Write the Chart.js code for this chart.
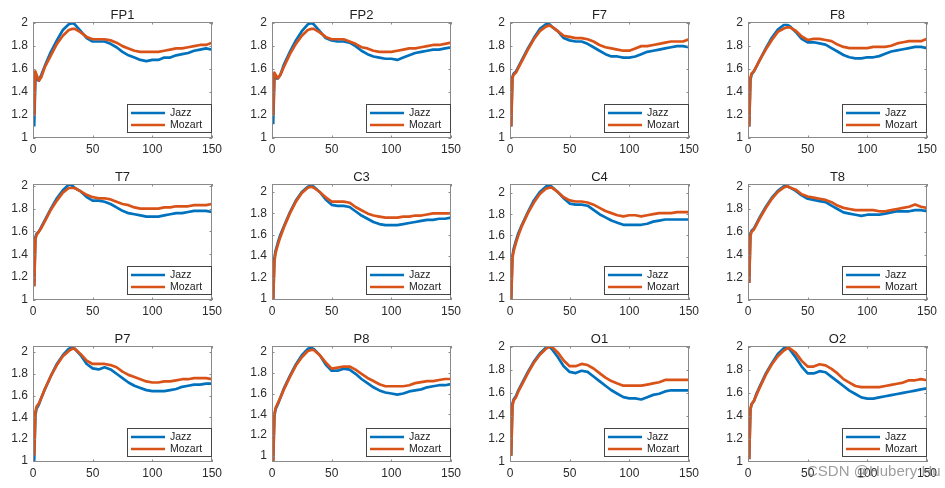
<!DOCTYPE html>
<html><head><meta charset="utf-8">
<script src="https://cdn.jsdelivr.net/npm/chart.js@4.4.1/dist/chart.umd.min.js"></script>
<style>
html,body{margin:0;padding:0;background:#fff;width:945px;height:488px;overflow:hidden;position:relative}
canvas{position:absolute}
#wm{position:absolute;left:807px;top:462px;font:15px "Liberation Sans",Arial,sans-serif;color:rgba(115,115,115,0.7);white-space:nowrap;z-index:5}
</style></head><body>
<div id="wrap"></div>
<div id="wm">CSDN @Hubery Hu</div>
<script>
// ---- data ----
const xValues = [1,2,3,5,7,10,15,20,25,30,33,35,40,45,50,55,60,65,70,75,80,85,90,95,100,105,110,115,120,125,130,135,140,145,150];
const xTickValues = [0,50,100,150];
const xTickLabels = ['0','50','100','150'];
const yTickValues = [1,1.2,1.4,1.6,1.8,2];
const yTickLabels = ['1','1.2','1.4','1.6','1.8','2'];
const titles = ['FP1','FP2','F7','F8','T7','C3','C4','T8','P7','P8','O1','O2'];
const seriesNames = ['Jazz','Mozart'];
const yMin = [1,1,1,1, 1,0.99,0.99,1, 0.99,0.94,0.995,0.995];
const yMax = [2.01,2.01,2.01,2.006, 2.015,2.075,2.085,2.02, 2.055,2.058,2.006,2.01];

const jazzFP1 = [1.10,1.52,1.51,1.50,1.55,1.63,1.75,1.85,1.94,1.99,2.00,1.99,1.93,1.87,1.84,1.84,1.84,1.82,1.79,1.75,1.72,1.70,1.68,1.67,1.68,1.68,1.70,1.70,1.72,1.73,1.74,1.76,1.77,1.78,1.77];
const mozartFP1 = [1.20,1.58,1.55,1.50,1.53,1.62,1.72,1.82,1.89,1.94,1.95,1.95,1.92,1.88,1.86,1.86,1.86,1.85,1.83,1.80,1.78,1.76,1.75,1.75,1.75,1.75,1.76,1.77,1.78,1.78,1.79,1.80,1.81,1.81,1.83];
const jazzFP2 = [1.12,1.52,1.52,1.52,1.55,1.64,1.75,1.85,1.93,1.99,2.00,1.99,1.93,1.87,1.85,1.84,1.84,1.83,1.80,1.76,1.73,1.71,1.70,1.69,1.69,1.68,1.70,1.72,1.74,1.75,1.76,1.77,1.77,1.78,1.79];
const mozartFP2 = [1.20,1.57,1.55,1.52,1.55,1.62,1.73,1.82,1.89,1.94,1.95,1.95,1.92,1.88,1.86,1.86,1.86,1.84,1.82,1.79,1.78,1.76,1.75,1.75,1.75,1.76,1.77,1.78,1.78,1.79,1.80,1.81,1.81,1.82,1.83];
const jazzF7 = [1.10,1.53,1.56,1.58,1.62,1.68,1.78,1.87,1.95,1.99,1.99,1.97,1.93,1.87,1.85,1.84,1.84,1.82,1.79,1.76,1.73,1.71,1.71,1.70,1.70,1.71,1.73,1.75,1.76,1.77,1.78,1.79,1.80,1.80,1.79];
const mozartF7 = [1.10,1.52,1.55,1.57,1.61,1.67,1.77,1.86,1.93,1.97,1.98,1.97,1.93,1.89,1.88,1.87,1.87,1.86,1.84,1.81,1.79,1.78,1.77,1.76,1.76,1.78,1.80,1.80,1.81,1.82,1.83,1.84,1.84,1.84,1.86];
const jazzF8 = [1.10,1.50,1.55,1.58,1.62,1.68,1.78,1.87,1.94,1.98,1.98,1.97,1.92,1.86,1.83,1.83,1.82,1.81,1.78,1.75,1.72,1.70,1.69,1.69,1.70,1.70,1.71,1.73,1.75,1.76,1.77,1.78,1.79,1.79,1.78];
const mozartF8 = [1.10,1.52,1.56,1.58,1.62,1.68,1.77,1.85,1.92,1.95,1.96,1.96,1.93,1.88,1.85,1.86,1.86,1.85,1.84,1.81,1.79,1.78,1.78,1.78,1.78,1.79,1.79,1.79,1.80,1.82,1.83,1.84,1.84,1.84,1.86];
const jazzT7 = [1.12,1.55,1.58,1.60,1.64,1.70,1.80,1.89,1.96,2.01,2.00,1.98,1.95,1.90,1.87,1.87,1.86,1.84,1.81,1.78,1.76,1.75,1.74,1.73,1.73,1.73,1.74,1.75,1.76,1.76,1.77,1.78,1.78,1.78,1.77];
const mozartT7 = [1.12,1.53,1.57,1.60,1.63,1.69,1.79,1.87,1.94,1.98,1.98,1.98,1.95,1.92,1.90,1.89,1.89,1.88,1.86,1.84,1.83,1.81,1.80,1.80,1.80,1.80,1.81,1.81,1.82,1.82,1.82,1.83,1.83,1.83,1.84];
const jazzC3 = [0.99,1.38,1.45,1.53,1.60,1.68,1.81,1.92,2.00,2.05,2.06,2.05,2.00,1.93,1.88,1.87,1.87,1.86,1.82,1.78,1.75,1.72,1.70,1.69,1.69,1.69,1.70,1.71,1.72,1.73,1.74,1.74,1.75,1.75,1.76];
const mozartC3 = [0.99,1.35,1.43,1.51,1.58,1.67,1.80,1.91,1.99,2.04,2.05,2.04,2.00,1.95,1.91,1.91,1.91,1.90,1.86,1.83,1.80,1.78,1.77,1.76,1.76,1.76,1.77,1.77,1.78,1.78,1.79,1.80,1.80,1.80,1.80];
const jazzC4 = [0.99,1.40,1.47,1.55,1.62,1.70,1.82,1.93,2.01,2.06,2.07,2.06,2.01,1.95,1.90,1.89,1.89,1.88,1.84,1.80,1.77,1.74,1.72,1.70,1.70,1.70,1.70,1.71,1.73,1.74,1.75,1.75,1.75,1.75,1.75];
const mozartC4 = [0.99,1.38,1.45,1.53,1.60,1.69,1.81,1.91,1.99,2.04,2.05,2.05,2.01,1.96,1.93,1.92,1.92,1.91,1.89,1.86,1.83,1.81,1.79,1.78,1.79,1.79,1.78,1.79,1.80,1.81,1.81,1.81,1.82,1.82,1.82];
const jazzT8 = [1.15,1.58,1.61,1.63,1.67,1.73,1.82,1.90,1.96,2.00,2.00,1.99,1.96,1.92,1.89,1.88,1.87,1.86,1.83,1.80,1.77,1.76,1.75,1.74,1.75,1.75,1.75,1.76,1.77,1.78,1.78,1.78,1.79,1.79,1.78];
const mozartT8 = [1.15,1.56,1.60,1.62,1.66,1.72,1.81,1.89,1.95,1.99,2.00,1.99,1.97,1.93,1.91,1.90,1.89,1.88,1.86,1.83,1.81,1.80,1.79,1.79,1.79,1.79,1.78,1.78,1.79,1.80,1.81,1.82,1.84,1.82,1.81];
const jazzP7 = [1.00,1.42,1.48,1.52,1.58,1.66,1.78,1.89,1.97,2.03,2.04,2.03,1.97,1.89,1.85,1.84,1.86,1.84,1.80,1.76,1.72,1.69,1.67,1.65,1.64,1.64,1.64,1.65,1.66,1.68,1.69,1.70,1.70,1.71,1.71];
const mozartP7 = [1.05,1.45,1.50,1.53,1.58,1.66,1.78,1.88,1.96,2.01,2.03,2.03,1.98,1.92,1.89,1.89,1.89,1.88,1.86,1.82,1.79,1.77,1.75,1.73,1.72,1.72,1.73,1.73,1.74,1.75,1.75,1.76,1.76,1.76,1.75];
const jazzP8 = [0.95,1.38,1.45,1.50,1.56,1.65,1.77,1.88,1.97,2.03,2.04,2.03,1.97,1.88,1.82,1.82,1.84,1.83,1.79,1.74,1.70,1.66,1.63,1.61,1.60,1.59,1.60,1.62,1.63,1.64,1.66,1.67,1.68,1.68,1.69];
const mozartP8 = [0.95,1.40,1.46,1.51,1.56,1.64,1.76,1.87,1.95,2.01,2.02,2.02,1.97,1.90,1.84,1.85,1.86,1.86,1.83,1.79,1.75,1.72,1.69,1.67,1.67,1.67,1.67,1.68,1.70,1.71,1.72,1.72,1.73,1.74,1.74];
const jazzO1 = [1.05,1.50,1.54,1.57,1.62,1.68,1.78,1.87,1.94,1.99,2.00,1.98,1.91,1.83,1.78,1.77,1.79,1.78,1.74,1.70,1.66,1.62,1.59,1.56,1.55,1.55,1.54,1.56,1.58,1.59,1.61,1.62,1.62,1.62,1.62];
const mozartO1 = [1.05,1.48,1.53,1.56,1.61,1.67,1.77,1.86,1.93,1.98,2.00,2.00,1.95,1.88,1.83,1.83,1.85,1.84,1.81,1.77,1.73,1.70,1.68,1.66,1.66,1.66,1.66,1.67,1.68,1.69,1.71,1.71,1.71,1.71,1.71];
const jazzO2 = [1.02,1.45,1.50,1.53,1.59,1.66,1.77,1.86,1.94,1.99,2.00,1.98,1.91,1.83,1.77,1.77,1.79,1.78,1.74,1.70,1.66,1.62,1.59,1.56,1.55,1.55,1.56,1.57,1.58,1.59,1.60,1.61,1.62,1.63,1.64];
const mozartO2 = [1.02,1.46,1.50,1.53,1.58,1.65,1.76,1.85,1.92,1.97,1.99,1.99,1.95,1.88,1.83,1.83,1.85,1.84,1.81,1.77,1.72,1.69,1.66,1.65,1.65,1.65,1.65,1.66,1.67,1.68,1.69,1.71,1.71,1.72,1.71];

const jazzSeries = [jazzFP1,jazzFP2,jazzF7,jazzF8,jazzT7,jazzC3,jazzC4,jazzT8,jazzP7,jazzP8,jazzO1,jazzO2];
const mozartSeries = [mozartFP1,mozartFP2,mozartF7,mozartF8,mozartT7,mozartC3,mozartC4,mozartT8,mozartP7,mozartP8,mozartO1,mozartO2];

// ---- style / layout ----
const JAZZ = '#0072BD', MOZART = '#D95319';
const FONT = '"Liberation Sans", Arial, Helvetica, sans-serif';
const TXT = '#2b2b2b';
const colLeft = [0, 239, 477, 715];
const rowTop = [0, 162, 324];
const CW = 226, CH = 158;

const matlabPlugin = {
  id: 'matlab',
  afterDatasetsDraw(chart, args, opts) {
    const {ctx, chartArea: a, scales: {x, y}} = chart;
    ctx.save();
    // axes box
    ctx.strokeStyle = '#8a8a8a';
    ctx.lineWidth = 1;
    ctx.strokeRect(Math.round(a.left) + 0.5, Math.round(a.top) + 0.5,
                   Math.round(a.right - a.left) - 1, Math.round(a.bottom - a.top) - 1);
    // inward tick marks
    ctx.beginPath();
    const tl = 2.5;
    xTickValues.forEach(v => {
      const px = Math.round(x.getPixelForValue(v)) + 0.5;
      ctx.moveTo(px, a.bottom); ctx.lineTo(px, a.bottom - tl);
      ctx.moveTo(px, a.top); ctx.lineTo(px, a.top + tl);
    });
    yTickValues.forEach(v => {
      if (v < y.min || v > y.max) return;
      const py = Math.round(y.getPixelForValue(v)) + 0.5;
      ctx.moveTo(a.left, py); ctx.lineTo(a.left + tl, py);
      ctx.moveTo(a.right, py); ctx.lineTo(a.right - tl, py);
    });
    ctx.stroke();
    // title
    ctx.fillStyle = '#1e1e1e';
    ctx.font = '13px ' + FONT;
    ctx.textAlign = 'center';
    ctx.textBaseline = 'alphabetic';
    ctx.fillText(opts.title, (a.left + a.right) / 2, a.top - 3);
    // legend
    const lw = 84, lh = 28;
    const lx = Math.round(a.right) - 1 - lw, ly = Math.round(a.bottom) - 6 - lh;
    ctx.fillStyle = '#fff';
    ctx.fillRect(lx, ly, lw, lh);
    ctx.strokeStyle = '#444';
    ctx.lineWidth = 1;
    ctx.strokeRect(lx + 0.5, ly + 0.5, lw, lh);
    ctx.font = '10.5px ' + FONT;
    ctx.textAlign = 'left';
    ctx.textBaseline = 'middle';
    chart.data.datasets.forEach((ds, i) => {
      const cy = ly + 9 + i * 12;
      ctx.strokeStyle = ds.borderColor;
      ctx.lineWidth = 2.5;
      ctx.beginPath();
      ctx.moveTo(lx + 4, cy); ctx.lineTo(lx + 38, cy);
      ctx.stroke();
      ctx.fillStyle = '#222';
      ctx.fillText(ds.label, lx + 43, cy + 0.5);
    });
    ctx.restore();
  }
};

const wrap = document.getElementById('wrap');
titles.forEach((t, k) => {
  const c = document.createElement('canvas');
  c.width = CW; c.height = CH;
  c.style.left = colLeft[k % 4] + 'px';
  c.style.top = rowTop[Math.floor(k / 4)] + 'px';
  c.style.width = CW + 'px'; c.style.height = CH + 'px';
  wrap.appendChild(c);
  const mk = arr => xValues.map((xv, i) => ({x: xv, y: arr[i]}));
  new Chart(c, {
    type: 'line',
    data: {
      datasets: [
        {label: seriesNames[0], data: mk(jazzSeries[k]), borderColor: JAZZ, borderWidth: 2.7, pointRadius: 0, tension: 0, order: 1, borderJoinStyle: 'round', fill: false},
        {label: seriesNames[1], data: mk(mozartSeries[k]), borderColor: MOZART, borderWidth: 2.7, pointRadius: 0, tension: 0, order: 0, borderJoinStyle: 'round', fill: false}
      ]
    },
    options: {
      responsive: false,
      animation: false,
      events: [],
      layout: {padding: {left: 0, top: 22, right: 12, bottom: 0}},
      plugins: {legend: {display: false}, tooltip: {enabled: false}, title: {display: false}, matlab: {title: t}},
      scales: {
        x: {
          type: 'linear', min: 0, max: 150,
          grid: {display: false, drawTicks: false}, border: {display: false},
          afterBuildTicks: s => { s.ticks = xTickValues.map(v => ({value: v})); },
          afterFit: s => { s.height = 20; },
          ticks: {padding: 4, maxRotation: 0, autoSkip: false, color: TXT, font: {size: 12, family: FONT},
                  callback: (v) => { const i = xTickValues.indexOf(v); return i >= 0 ? xTickLabels[i] : ''; }}
        },
        y: {
          type: 'linear', min: yMin[k], max: yMax[k],
          grid: {display: false, drawTicks: false}, border: {display: false},
          afterBuildTicks: s => { s.ticks = yTickValues.filter(v => v >= s.min - 1e-9 && v <= s.max + 1e-9).map(v => ({value: v})); },
          afterFit: s => { s.width = 33; },
          ticks: {padding: 5, autoSkip: false, color: TXT, font: {size: 12, family: FONT},
                  callback: (v) => { const i = yTickValues.findIndex(u => Math.abs(u - v) < 1e-9); return i >= 0 ? yTickLabels[i] : ''; }}
        }
      }
    },
    plugins: [matlabPlugin]
  });
});
</script>
</body></html>
